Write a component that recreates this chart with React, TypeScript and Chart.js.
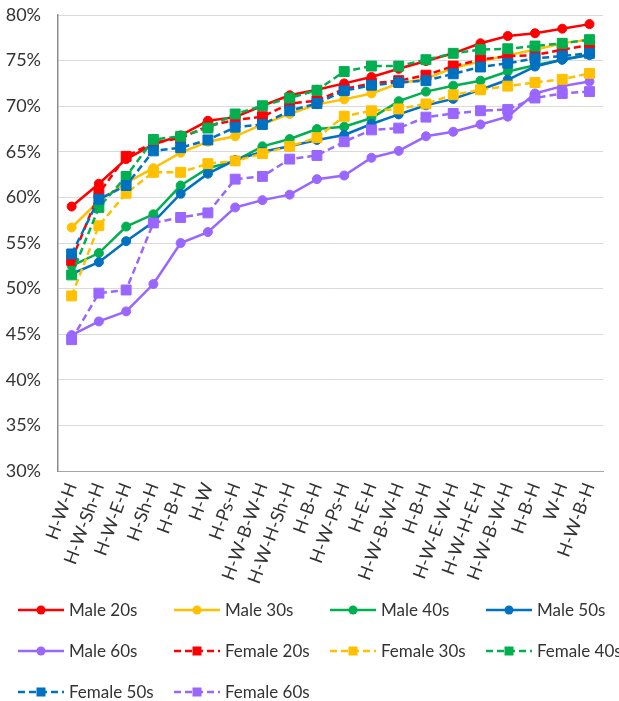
import React, { useEffect, useRef } from 'react';
import { Chart, registerables } from 'chart.js';

Chart.register(...registerables);

// Route patterns along the horizontal axis
const routes = [
  'H-W-H', 'H-W-Sh-H', 'H-W-E-H', 'H-Sh-H', 'H-B-H', 'H-W', 'H-Ps-H', 'H-W-B-W-H',
  'H-W-H-Sh-H', 'H-B-H', 'H-W-Ps-H', 'H-E-H', 'H-W-B-W-H', 'H-B-H', 'H-W-E-W-H',
  'H-W-H-E-H', 'H-W-B-W-H', 'H-B-H', 'W-H', 'H-W-B-H',
];

// Percentages per group
const male20 = [59.0, 61.5, 64.2, 65.8, 66.8, 68.4, 68.8, 70.05, 71.2, 71.8, 72.5, 73.2, 74.1, 74.95, 75.8, 76.9, 77.7, 78.0, 78.5, 79.0];
const male30 = [56.7, 59.6, 61.6, 63.2, 64.9, 66.1, 66.7, 68.0, 69.15, 70.2, 70.75, 71.4, 72.5, 73.0, 74.2, 74.9, 75.6, 76.2, 76.9, 77.3];
const male40 = [52.5, 53.9, 56.8, 58.15, 61.3, 63.2, 64.0, 65.6, 66.4, 67.5, 67.75, 68.7, 70.55, 71.6, 72.25, 72.8, 73.8, 74.5, 75.1, 75.7];
const male50 = [51.6, 52.9, 55.2, 57.3, 60.4, 62.6, 64.1, 65.0, 65.6, 66.3, 66.85, 68.05, 69.1, 70.1, 70.8, 71.8, 72.9, 74.35, 75.1, 75.6];
const male60 = [44.9, 46.4, 47.5, 50.5, 55.0, 56.2, 58.9, 59.7, 60.3, 62.0, 62.4, 64.35, 65.1, 66.7, 67.2, 68.0, 68.85, 71.4, 72.2, 72.7];
const female20 = [53.1, 60.45, 64.5, 66.0, 66.5, 67.8, 68.5, 68.85, 70.3, 70.6, 71.9, 72.5, 72.8, 73.4, 74.4, 75.1, 75.5, 75.6, 76.2, 76.7];
const female30 = [49.2, 56.9, 60.45, 62.75, 62.75, 63.7, 64.0, 64.8, 65.6, 66.55, 68.9, 69.5, 69.7, 70.25, 71.25, 71.8, 72.2, 72.6, 72.95, 73.6];
const female40 = [51.5, 58.9, 62.3, 66.35, 66.7, 67.6, 69.15, 70.05, 70.9, 71.75, 73.8, 74.4, 74.4, 75.1, 75.8, 76.2, 76.3, 76.6, 76.9, 77.3];
const female50 = [53.8, 59.8, 61.3, 65.1, 65.45, 66.3, 67.7, 68.0, 69.5, 70.3, 71.7, 72.3, 72.6, 72.8, 73.55, 74.3, 74.7, 75.25, 75.5, 75.8];
const female60 = [44.4, 49.5, 49.85, 57.2, 57.8, 58.3, 62.0, 62.3, 64.2, 64.6, 66.1, 67.4, 67.6, 68.8, 69.2, 69.5, 69.65, 70.9, 71.4, 71.6];

const yMin = 30;
const yMax = 80;
const yStep = 5;

const RED = '#FF0000';
const GOLD = '#FFC000';
const GREEN = '#00B050';
const BLUE = '#0070C0';
const VIOLET = '#9966FF';

const FONT = 'Lato, "Open Sans", sans-serif';
const TEXT = '#333333';

type Series = { label: string; data: number[]; color: string; female: boolean };

const series: Series[] = [
  { label: 'Male 20s', data: male20, color: RED, female: false },
  { label: 'Male 30s', data: male30, color: GOLD, female: false },
  { label: 'Male 40s', data: male40, color: GREEN, female: false },
  { label: 'Male 50s', data: male50, color: BLUE, female: false },
  { label: 'Male 60s', data: male60, color: VIOLET, female: false },
  { label: 'Female 20s', data: female20, color: RED, female: true },
  { label: 'Female 30s', data: female30, color: GOLD, female: true },
  { label: 'Female 40s', data: female40, color: GREEN, female: true },
  { label: 'Female 50s', data: female50, color: BLUE, female: true },
  { label: 'Female 60s', data: female60, color: VIOLET, female: true },
];

const CANVAS_W = 619;
const CANVAS_H = 590;

function LegendMark({ color, female }: { color: string; female: boolean }) {
  return (
    <svg width={46} height={14} style={{ display: 'block' }}>
      <line
        x1={0}
        y1={7}
        x2={46}
        y2={7}
        stroke={color}
        strokeWidth={2.5}
        strokeDasharray={female ? '7 4' : undefined}
      />
      {female ? (
        <rect x={18.5} y={2.5} width={9} height={9} fill={color} />
      ) : (
        <circle cx={23} cy={7} r={4.5} fill={color} />
      )}
    </svg>
  );
}

export default function App() {
  const canvasRef = useRef<HTMLCanvasElement | null>(null);

  useEffect(() => {
    const canvas = canvasRef.current;
    if (!canvas) return;
    const n = series.length;
    const chart = new Chart(canvas, {
      type: 'line',
      data: {
        labels: routes,
        datasets: series.map((s, i) => ({
          label: s.label,
          data: s.data,
          borderColor: s.color,
          backgroundColor: s.color,
          borderWidth: 2.5,
          borderDash: s.female ? [7, 4] : [],
          pointStyle: s.female ? 'rect' : 'circle',
          pointRadius: s.female ? 7 : 4.5,
          pointHoverRadius: s.female ? 7 : 4.5,
          pointBorderWidth: 1,
          pointBackgroundColor: s.color,
          pointBorderColor: s.color,
          tension: 0,
          fill: false,
          // later series sit on top
          order: n - i,
        })),
      },
      options: {
        responsive: false,
        animation: false,
        devicePixelRatio: 1,
        layout: { padding: { top: 15, right: 5, left: 0, bottom: 0 } },
        plugins: {
          legend: { display: false },
          tooltip: { enabled: false },
        },
        scales: {
          x: {
            type: 'category',
            offset: true,
            grid: { display: false, drawTicks: false },
            border: { display: true, color: '#a6a6a6', width: 1 },
            ticks: {
              autoSkip: false,
              minRotation: 70,
              maxRotation: 70,
              padding: 9,
              color: TEXT,
              font: { family: FONT, size: 18 },
            },
            afterFit: (scale: any) => {
              scale.height = 119;
            },
          },
          y: {
            min: yMin,
            max: yMax,
            // invisible tick marks keep the labels clear of the axis line
            grid: { color: '#d9d9d9', lineWidth: 1, drawTicks: true, tickLength: 15, tickColor: 'rgba(0,0,0,0)' },
            border: { display: true, color: '#8c8c8c', width: 1.5 },
            ticks: {
              stepSize: yStep,
              padding: 2,
              color: TEXT,
              font: { family: FONT, size: 18 },
              callback: (v: any) => `${v}%`,
            },
            afterFit: (scale: any) => {
              scale.width = 58;
            },
          },
        },
      },
    });
    return () => chart.destroy();
  }, []);

  const rows: Series[][] = [series.slice(0, 4), series.slice(4, 8), series.slice(8)];

  return (
    <div
      style={{
        position: 'absolute',
        left: 0,
        top: 0,
        width: CANVAS_W,
        height: 701,
        background: '#fff',
        fontFamily: FONT,
      }}
    >
      <canvas ref={canvasRef} width={CANVAS_W} height={CANVAS_H} style={{ display: 'block' }} />
      <div style={{ position: 'absolute', left: 18, top: 589 }}>
        {rows.map((row, r) => (
          <div key={r} style={{ display: 'flex', height: 41, alignItems: 'center' }}>
            {row.map((s) => (
              <div key={s.label} style={{ width: 156, display: 'flex', alignItems: 'center' }}>
                <LegendMark color={s.color} female={s.female} />
                <span style={{ marginLeft: 5, fontSize: 17, color: TEXT, whiteSpace: 'nowrap' }}>
                  {s.label}
                </span>
              </div>
            ))}
          </div>
        ))}
      </div>
    </div>
  );
}
